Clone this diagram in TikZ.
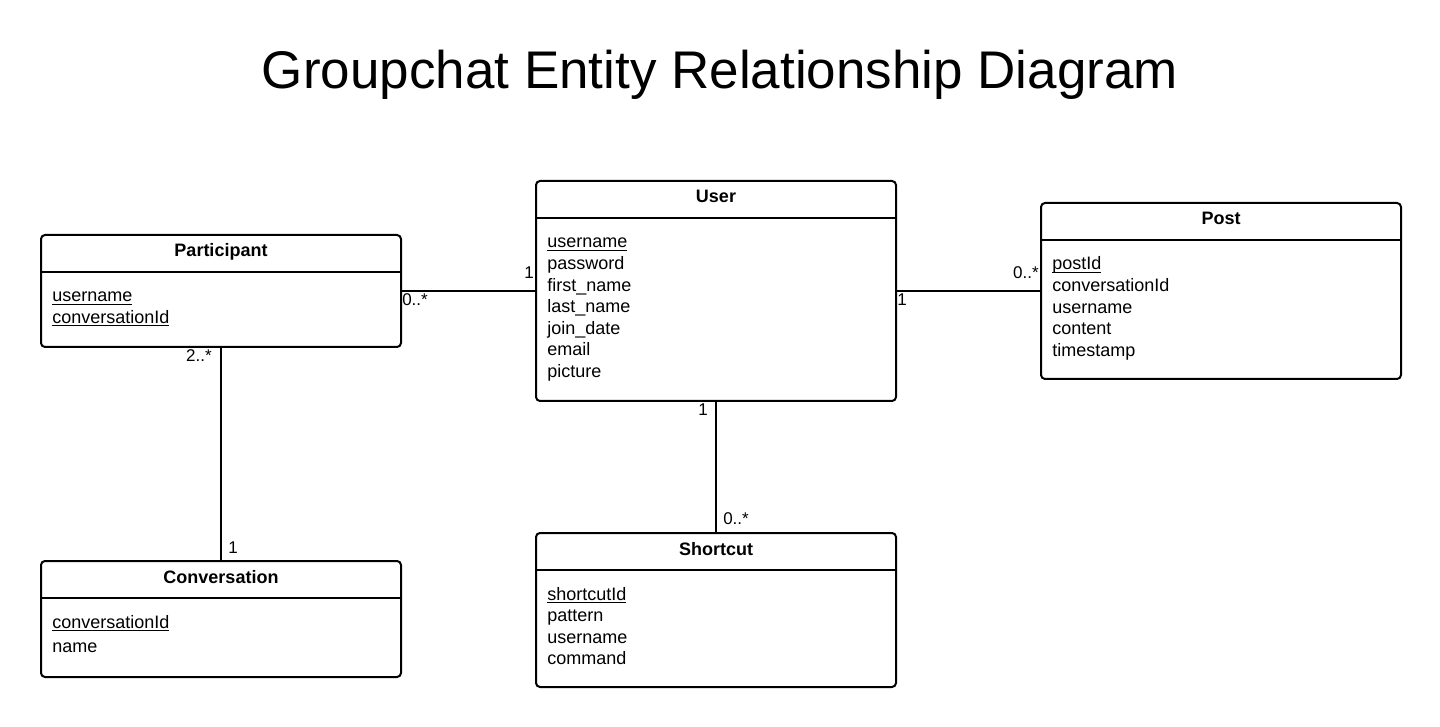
\documentclass[tikz,border=0pt]{standalone}
\usepackage{fontspec}
\setmainfont{Liberation Sans}
\usetikzlibrary{calc}

\tikzset{
  entity/.style={draw, line width=1.5pt, rounded corners=3pt, anchor=north west,
    minimum width=270pt, inner sep=0pt},
  entname/.style={anchor=base, inner sep=0pt, font=\fontsize{13.5}{16.2}\selectfont\bfseries},
  attrs/.style={anchor=base west, align=left, text width=240pt, inner sep=0pt,
    font=\fontsize{13.5}{16.2}\selectfont},
  link/.style={line width=1.5pt},
  mult/.style={inner sep=0pt, font=\fontsize{12.75}{15}\selectfont},
}
\newcommand{\keyattr}[1]{\underline{\smash{#1}}}

\begin{document}
\begin{tikzpicture}[x=0.75pt, y=-0.75pt]
  \useasboundingbox (0,0) rectangle (1440,727);
  \node[anchor=base, inner sep=0pt, font=\fontsize{39.75}{48}\selectfont] (title) at (720,89)
    {Groupchat Entity Relationship Diagram};

  % entities: name/x/y/height/title/attributes (px)
  \foreach \n/\x/\y/\h/\t/\a in {
    part/40/234/112/Participant/{\keyattr{username}\\\keyattr{conversationId}},
    user/535/180/220/User/{\keyattr{username}\\password\\first\_name\\last\_name\\join\_date\\email\\picture},
    post/1040/202/176/Post/{\keyattr{postId}\\conversationId\\username\\content\\timestamp},
    conv/40/560/116/Conversation/{\keyattr{conversationId}\\[1.8pt]name},
    short/535/532/154/Shortcut/{\keyattr{shortcutId}\\pattern\\username\\command}%
  }{
    \node[entity, minimum height=\h*0.75pt] (\n) at (\x,\y) {};
    \draw[link] ($(\n.north west)+(0,38)$) -- ($(\n.north east)+(0,38)$);
    \node[entname] (\n-name) at ($(\n.north)+(0,23)$) {\t};
    \node[attrs] (\n-attrs) at ($(\n.north west)+(12,68)$) {\a};
  }

  % relationships
  \draw[link] (part.east) -- (user.west);
  \draw[link] (user.east) -- (post.west);
  \draw[link] (user.south) -- (short.north);
  \draw[link] (part.south) -- (conv.north);

  % multiplicities
  \node[mult, anchor=base west] (pu-a) at ($(part.east)+(0,15)$) {0..*};
  \node[mult, anchor=base east] (pu-b) at ($(user.west)+(-1,-12)$) {1};
  \node[mult, anchor=base west] (up-a) at ($(user.east)+(0,15)$) {1};
  \node[mult, anchor=base east] (up-b) at ($(post.west)+(-1,-12)$) {0..*};
  \node[mult, anchor=base east] (us-a) at ($(user.south)+(-8,14)$) {1};
  \node[mult, anchor=base west] (us-b) at ($(short.north)+(7,-8)$) {0..*};
  \node[mult, anchor=base east] (pc-a) at ($(part.south)+(-9,14)$) {2..*};
  \node[mult, anchor=base west] (pc-b) at ($(conv.north)+(7,-7)$) {1};
\end{tikzpicture}
\end{document}
